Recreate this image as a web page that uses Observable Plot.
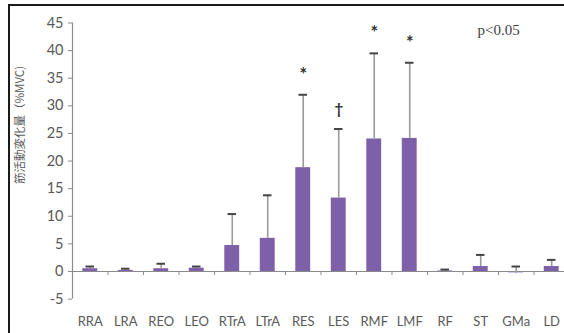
<!DOCTYPE html>
<html>
<head>
<meta charset="utf-8">
<script src="https://cdn.jsdelivr.net/npm/d3@7"></script>
<script src="https://cdn.jsdelivr.net/npm/@observablehq/plot@0.6"></script>
<style>
  html, body { margin: 0; padding: 0; background: #fff; }
  #wrap { position: relative; width: 564px; height: 333px; overflow: hidden; }
  #frame { position: absolute; left: 8px; top: 4px; width: 600px; height: 400px;
           border-left: 2px solid #1a1a1a; border-top: 2px solid #1a1a1a; pointer-events: none; }
</style>
</head>
<body>
<div id="wrap"><div id="frame"></div></div>
<script>
const muscles = ["RRA","LRA","REO","LEO","RTrA","LTrA","RES","LES","RMF","LMF","RF","ST","GMa","LD"];
const means   = [0.5, 0.2, 0.5, 0.6, 4.7, 6.0, 18.8, 13.3, 24.0, 24.1, 0.1, 0.9, -0.3, 0.9];
const uppers  = [0.9, 0.5, 1.4, 0.9, 10.4, 13.8, 32.0, 25.8, 39.5, 37.8, 0.35, 3.0, 0.9, 2.1];
const marks   = ["", "", "", "", "", "", "*", "†", "*", "*", "", "", "", ""];
const yTicks  = [-5, 0, 5, 10, 15, 20, 25, 30, 35, 40, 45];
const yLabel  = "筋活動変化量（%MVC)";
const note    = "p<0.05";

const data = muscles.map((m, i) => ({m, i, mean: means[i], upper: uppers[i], mark: marks[i]}));

const W = 564, H = 333;
const mT = 22.5, mB = 34.4, mL = 72;
const innerH = H - mT - mB;
const zeroShift = -(5 / 50) * innerH;
const font = "Lato, 'Open Sans', sans-serif";

const chart = Plot.plot({
  width: W,
  height: H,
  marginTop: mT,
  marginBottom: mB,
  marginLeft: mL,
  marginRight: 0,
  style: {fontFamily: font, fontSize: "12px", color: "#595959", background: "transparent"},
  x: {domain: [0, 13.86]},
  y: {domain: [-5, 45]},
  marks: [
    Plot.axisY({ticks: yTicks, tickSize: 4, tickPadding: 5, fontSize: 14.5, tickFormat: v => String(v),
      label: null, stroke: "#8a8a8a", fill: "#595959"}),
    Plot.ruleX([0], {stroke: "#8a8a8a", strokeWidth: 1.2}),
    Plot.rectY(data, {x1: "i", x2: d => d.i + 1, y1: 0, y2: "mean", insetLeft: 10.3, insetRight: 10.3,
      fill: d => d.mean < 0 ? "#b7a6d3" : "#7d60a8"}),
    Plot.ruleY([0], {stroke: "#8a8a8a", strokeWidth: 1.2}),
    Plot.axisX({ticks: d3.range(1, 14), tickSize: 4, tickFormat: () => "", dy: zeroShift, label: null, stroke: "#8a8a8a"}),
    Plot.axisX({ticks: data.map(d => d.i + 0.5), tickSize: 0, tickPadding: 18, fontSize: 13,
      tickFormat: (v) => muscles[Math.floor(v)], label: null, fill: "#595959"}),
    Plot.ruleX(data, {x: d => d.i + 0.5, y1: "mean", y2: "upper", stroke: "#9a9a9a", strokeWidth: 1.6}),
    Plot.ruleY(data, {y: "upper", x1: d => d.i + 0.5 - 0.12, x2: d => d.i + 0.5 + 0.12, stroke: "#444", strokeWidth: 2}),
    Plot.text(data.filter(d => d.mark), {x: d => d.i + 0.5, y: "upper", text: "mark", dy: -20,
      fontSize: d => d.mark === "*" ? 18 : 15, fontWeight: "bold", fill: "#333", lineAnchor: "middle"}),
    Plot.text([note], {frameAnchor: "top-right", dx: -87, dy: 1, fontFamily: "'Liberation Serif', serif",
      fontSize: 15, fill: "#404040", textAnchor: "start"}),
    Plot.text([yLabel], {frameAnchor: "left", dx: -52, dy: 23, rotate: -90, fontSize: 11.5,
      fontFamily: "'Noto Sans CJK JP', sans-serif", fill: "#595959"})
  ]
});
document.getElementById("wrap").prepend(chart);
</script>
</body>
</html>
